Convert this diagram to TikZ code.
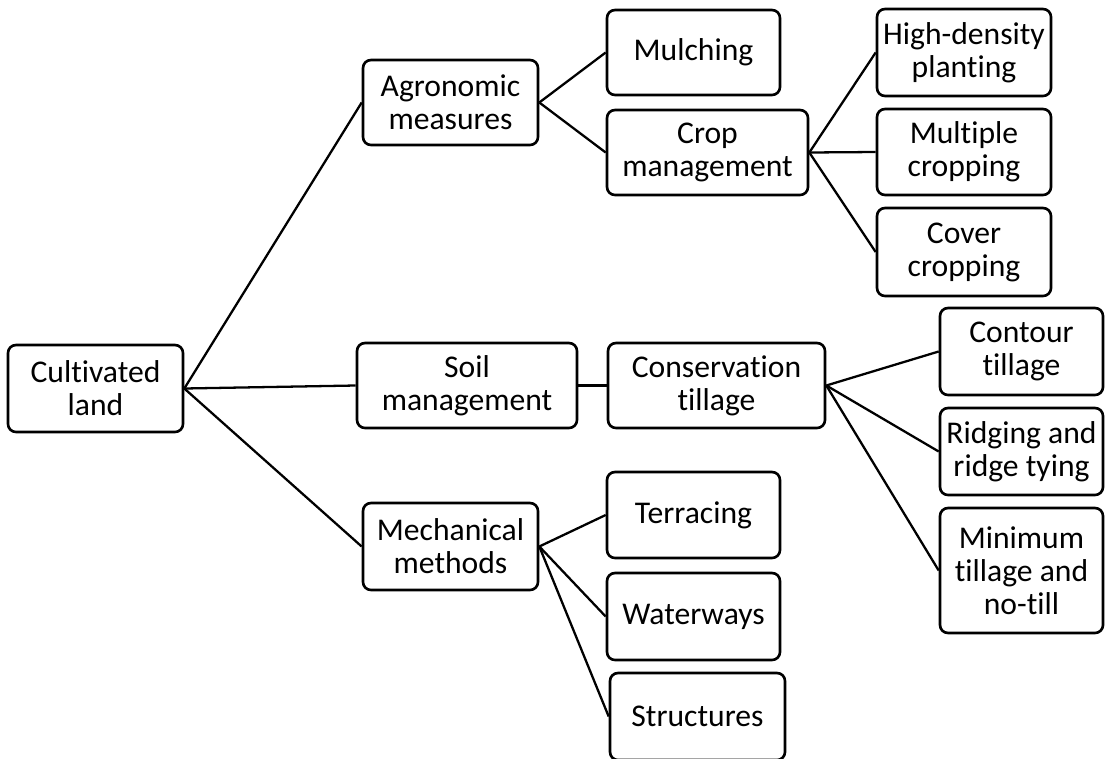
\documentclass[tikz,border=0pt]{standalone}
\usepackage{fontspec}
\setmainfont{Carlito}[Ligatures=NoCommon]
\begin{document}
\begin{tikzpicture}[x=0.02cm,y=-0.02cm,font=\fontsize{18}{18.8}\selectfont,
    box/.style={draw,line width=1.5pt,rounded corners=0.16cm,align=center,inner sep=0pt,
      minimum width=#1*0.02cm},
    box/.default=175,
    link/.style={line width=1.3pt}]
  \useasboundingbox (0,0) rectangle (1106,758);
  % first level
  \node[box,minimum height=1.74cm] (land) at (95.5,388.5) {Cultivated\\land};
  \node[box,minimum height=1.7cm] (agro) at (450.5,102.5) {Agronomic\\measures};
  \node[box=220,minimum height=1.7cm] (soil) at (467,385.5) {Soil\\management};
  \node[box,minimum height=1.74cm] (mech) at (450.5,546.5) {Mechanical\\methods};
  % agronomic
  \node[box=173,minimum height=1.7cm] (mulch) at (693.5,52.5) {Mulching};
  \node[box=201,minimum height=1.7cm] (crop) at (707.5,152.5) {Crop\\management};
  \node[box=174,minimum height=1.74cm] (dense) at (964,52.5) {High-density\\planting};
  \node[box=174,minimum height=1.72cm] (multi) at (964,152) {Multiple\\cropping};
  \node[box=174,minimum height=1.76cm] (cover) at (964,252) {Cover\\cropping};
  % soil
  \node[box=217,minimum height=1.7cm] (cons) at (716.5,385.5) {Conservation\\tillage};
  \node[box=163,minimum height=1.74cm] (contour) at (1021.5,351.5) {Contour\\tillage};
  \node[box=163,minimum height=1.74cm] (ridge) at (1021.5,451.5) {Ridging and\\ridge tying};
  \node[box=163,minimum height=2.5cm] (notill) at (1021.5,570.5) {Minimum\\tillage and\\no-till};
  % mechanical
  \node[box=173,minimum height=1.72cm] (terr) at (693.5,515) {Terracing};
  \node[box=173,minimum height=1.74cm] (water) at (693.5,616.5) {Waterways};
  \node[box=175,minimum height=1.74cm] (struct) at (697.5,716.5) {Structures};
  % links
  \foreach \a/\b in {land/agro,land/soil,land/mech,agro/mulch,agro/crop,
      crop/dense,crop/multi,crop/cover,soil/cons,cons/contour,cons/ridge,cons/notill,
      mech/terr,mech/water,mech/struct}
    \draw[link] (\a.east) -- (\b.west);
\end{tikzpicture}
\end{document}
